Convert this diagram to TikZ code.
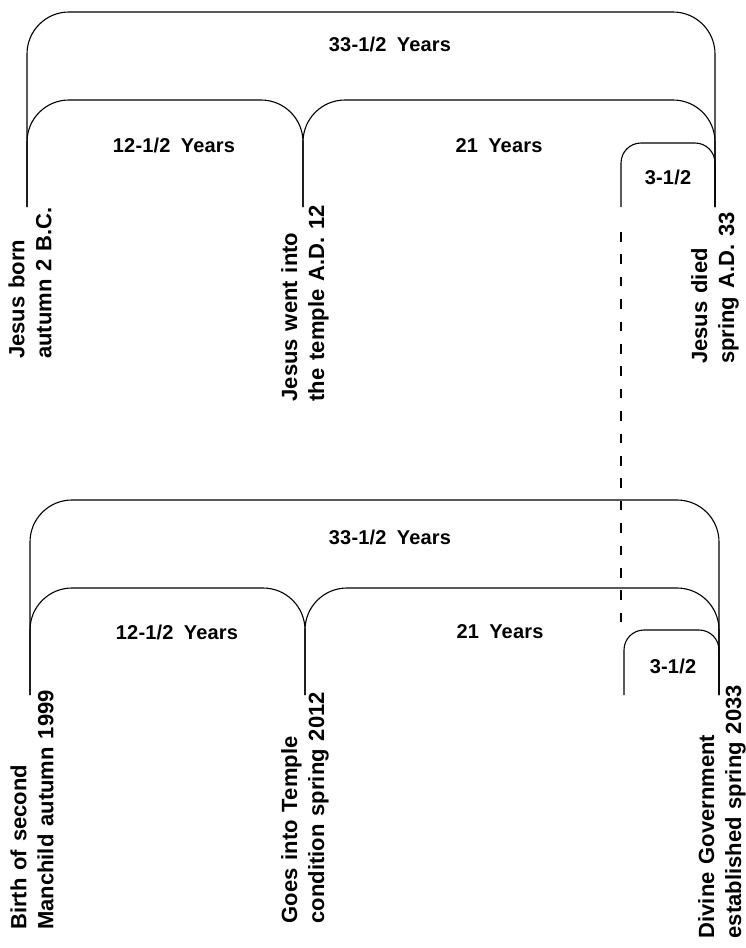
\documentclass[tikz,border=0pt]{standalone}
\usepackage{fontspec}
\setmainfont{Liberation Sans}[WordSpace=1.3]
\newfontfamily\spanfont{Liberation Sans}[WordSpace=1.8, LetterSpace=1]
\usetikzlibrary{positioning}

\tikzset{
	span/.style={line width=1.1pt, rounded corners=42pt},
	shortspan/.style={line width=1.1pt, rounded corners=20pt},
	yrs/.style={inner sep=0pt, font=\spanfont\fontsize{20}{22}\selectfont\bfseries},
	event/.style={rotate=90, anchor=east, align=left, inner sep=0pt, font=\fontsize{22}{27}\selectfont\bfseries}
}

\begin{document}
\begin{tikzpicture}[x=1pt,y=-1pt]
	\useasboundingbox (0,0) rectangle (745,948);
	\draw[span] (27,207) -- (27,12) -- (715,12) -- (715,207);
	\draw[span] (27,207) -- (27,100) -- (303,100) -- (303,207);
	\draw[span] (303,207) -- (303,100) -- (715,100) -- (715,207);
	\draw[shortspan] (621,207) -- (621,143) -- (715,143) -- (715,207);
	\node[yrs] (allA) at (390,44) {33-1/2 Years};
	\node[yrs] (youthA) at (174,145) {12-1/2 Years};
	\node[yrs] (restA) at (499,146) {21 Years};
	\node[yrs] (lastA) at (668,177) {3-1/2};
	\node[event] (born) at (30,207) {Jesus born\\autumn 2 B.C.};
	\node[event] (temple) at (305,205) {Jesus went into\\the temple A.D. 12};
	\node[event] (died) at (715,212) {Jesus died\\spring A.D. 33};
	\draw[line width=1.1pt, dash pattern=on 9.5pt off 12.9pt] (621,232) -- (621,622);
	\draw[span] (30,695) -- (30,500) -- (719,500) -- (719,695);
	\draw[span] (30,695) -- (30,588) -- (305,588) -- (305,695);
	\draw[span] (305,695) -- (305,588) -- (719,588) -- (719,695);
	\draw[shortspan] (624,695) -- (624,630) -- (719,630) -- (719,695);
	\node[yrs] (allB) at (390,537) {33-1/2 Years};
	\node[yrs] (youthB) at (177,632) {12-1/2 Years};
	\node[yrs] (restB) at (500,632) {21 Years};
	\node[yrs] (lastB) at (673,666) {3-1/2};
	\node[event] (birth) at (32,690) {Birth of second\\Manchild autumn 1999};
	\node[event] (goes) at (305,692) {Goes into Temple\\condition spring 2012};
	\node[event] (divine) at (722,685) {Divine Government\\established spring 2033};
\end{tikzpicture}
\end{document}
